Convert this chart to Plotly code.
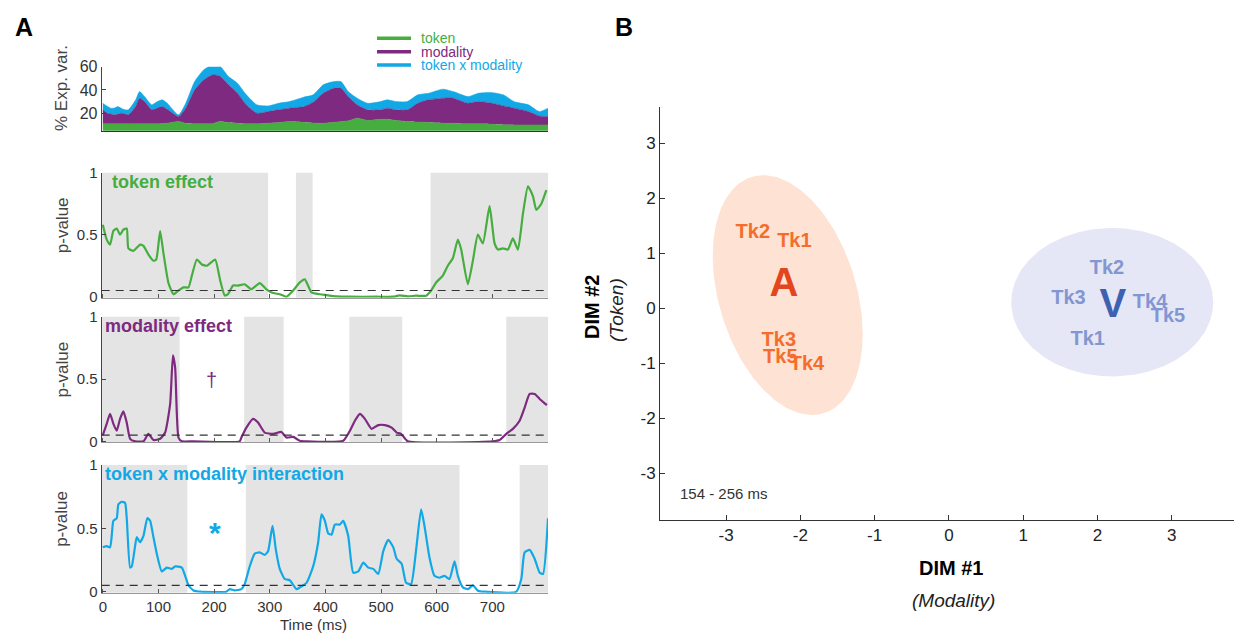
import numpy as np
import plotly.graph_objects as go

# ---------------- Panel A (top): % explained variance (stacked) ----------------
ev_time = [0, 8, 14, 21, 27, 34, 40, 46, 59, 66, 75, 88, 98, 107, 117, 136, 149, 165, 181, 197,
           210, 226, 242, 258, 277, 297, 316, 335, 361, 378, 396, 415, 428, 441, 457, 476, 499,
           511, 527, 547, 566, 585, 611, 630, 656, 675, 700, 720, 739, 765, 784, 800]
ev_token = [10.9, 10.9, 10.9, 10.9, 10.9, 10.9, 10.9, 10.9, 10.9, 10.9, 10.9, 10.9, 10.9, 11.2, 11.5,
            12.9, 11.4, 11.0, 11.0, 11.0, 12.9, 12.0, 11.4, 11.0, 11.0, 11.4, 12.0, 12.9, 12.2, 11.6,
            11.4, 12.2, 12.9, 13.5, 15.8, 13.9, 14.8, 14.8, 13.8, 12.9, 12.5, 12.2, 11.4, 11.4, 10.9,
            10.9, 10.5, 10.2, 10.0, 10.0, 10.0, 10.0]
ev_modality = [12.0, 9.1, 8.4, 7.7, 8.4, 9.1, 8.4, 7.7, 14.8, 22.0, 19.1, 12.0, 13.6, 14.5, 11.4,
               4.3, 13.0, 29.0, 37.6, 41.9, 39.1, 32.4, 25.8, 16.2, 9.0, 10.1, 10.9, 11.5, 13.5,
               17.9, 25.8, 29.3, 28.6, 20.8, 11.4, 9.0, 8.1, 9.6, 9.1, 10.0, 16.1, 19.3, 21.5,
               21.5, 17.7, 19.1, 18.1, 16.1, 14.4, 11.5, 7.7, 7.2]
ev_interaction = [5.7, 6.0, 5.1, 5.9, 6.4, 4.0, 3.6, 4.4, 5.8, 5.7, 4.3, 4.3, 5.5, 5.8, 5.1, 1.4,
                  4.2, 7.2, 8.6, 8.6, 8.7, 7.1, 8.6, 8.6, 7.2, 4.8, 5.7, 5.6, 8.1, 6.3, 7.2, 5.7,
                  5.7, 4.3, 5.7, 5.7, 7.1, 7.1, 7.1, 7.1, 7.2, 5.7, 7.8, 5.7, 5.7, 7.2, 9.1, 9.5,
                  5.6, 5.7, 3.8, 7.2]
ev_ticks = [20, 40, 60]

# ---------------- Panel A: p-value time courses ----------------
token_t = [0, 7, 13, 19, 25, 31, 37, 43, 46, 55, 67, 73, 82, 91, 96, 103, 109, 118, 127, 136,
           145, 154, 160, 169, 178, 187, 193, 202, 211, 219, 225, 234, 243, 255, 267, 282, 294,
           306, 318, 330, 342, 354, 363, 375, 390, 402, 420, 444, 492, 522, 533, 548, 563, 581,
           590, 599, 611, 620, 629, 638, 644, 656, 665, 674, 683, 695, 704, 710, 719, 728, 737,
           746, 755, 764, 773, 779, 788, 797]
token_p = [0.58, 0.46, 0.42, 0.53, 0.55, 0.50, 0.54, 0.55, 0.39, 0.37, 0.42, 0.41, 0.34, 0.29,
           0.30, 0.53, 0.35, 0.11, 0.02, 0.05, 0.075, 0.075, 0.17, 0.30, 0.26, 0.25, 0.27, 0.30,
           0.13, 0.01, 0.02, 0.09, 0.09, 0.10, 0.06, 0.11, 0.06, 0.03, 0.02, 0.0, 0.05, 0.115,
           0.14, 0.035, 0.02, 0.013, 0.003, 0.0, 0.0, 0.0, 0.01, 0.003, 0.008, 0.008, 0.05, 0.115,
           0.17, 0.25, 0.31, 0.46, 0.38, 0.10, 0.29, 0.50, 0.43, 0.73, 0.43, 0.38, 0.39, 0.38,
           0.47, 0.38, 0.67, 0.89, 0.81, 0.70, 0.75, 0.86]

mod_t = [0, 7, 13, 19, 25, 31, 37, 43, 49, 58, 73, 82, 91, 103, 112, 121, 126, 130, 136, 142,
         163, 246, 249, 258, 270, 279, 291, 306, 321, 330, 342, 354, 366, 432, 444, 453, 462,
         471, 483, 495, 507, 519, 528, 536, 548, 701, 713, 725, 737, 749, 758, 767, 776, 785, 798]
mod_p = [0.05, 0.14, 0.22, 0.14, 0.085, 0.18, 0.24, 0.15, 0.02, 0.0, 0.0, 0.06, 0.01, 0.02, 0.07,
         0.30, 0.69, 0.59, 0.03, 0.0, 0.0, 0.0, 0.03, 0.11, 0.18, 0.15, 0.07, 0.06, 0.075, 0.03,
         0.035, 0.005, 0.0, 0.005, 0.085, 0.165, 0.22, 0.18, 0.10, 0.13, 0.13, 0.11, 0.07, 0.06,
         0.0, 0.0, 0.01, 0.06, 0.10, 0.165, 0.27, 0.38, 0.38, 0.34, 0.29]

int_t = [0, 7, 13, 16, 19, 25, 28, 34, 40, 43, 49, 52, 58, 61, 67, 73, 80, 85, 91, 97, 106, 115,
         124, 130, 142, 148, 154, 163, 175, 222, 228, 237, 249, 255, 264, 273, 282, 291, 297, 305,
         311, 318, 327, 336, 348, 354, 366, 378, 387, 393, 399, 405, 411, 417, 426, 432, 441, 450,
         459, 468, 477, 486, 495, 504, 513, 522, 528, 537, 545, 554, 563, 572, 578, 587, 596, 605,
         614, 623, 632, 638, 647, 656, 665, 674, 686, 743, 752, 758, 767, 776, 785, 791, 800]
int_p = [0.35, 0.36, 0.35, 0.44, 0.56, 0.58, 0.69, 0.71, 0.70, 0.58, 0.19, 0.20, 0.36, 0.43, 0.39,
         0.44, 0.58, 0.56, 0.43, 0.30, 0.16, 0.19, 0.18, 0.20, 0.19, 0.125, 0.05, 0.01, 0.0, 0.0,
         0.02, 0.01, 0.02, 0.06, 0.20, 0.30, 0.31, 0.29, 0.32, 0.52, 0.33, 0.18, 0.10, 0.09, 0.02,
         0.034, 0.07, 0.20, 0.39, 0.61, 0.56, 0.46, 0.45, 0.53, 0.53, 0.56, 0.44, 0.15, 0.16, 0.23,
         0.19, 0.18, 0.14, 0.32, 0.41, 0.35, 0.26, 0.22, 0.07, 0.06, 0.33, 0.65, 0.52, 0.27, 0.125,
         0.11, 0.125, 0.10, 0.24, 0.125, 0.034, 0.02, 0.05, 0.008, 0.0, 0.0, 0.10, 0.31, 0.33,
         0.26, 0.15, 0.14, 0.58]

# non-significant (gray) windows, ms
token_gray = [[-2, 297], [347, 377], [589, 800]]
mod_gray = [[-2, 138], [254, 325], [443, 538], [725, 800]]
int_gray = [[-2, 152], [257, 641], [749, 800]]
p_threshold = 0.05
time_ticks = [0, 100, 200, 300, 400, 500, 600, 700]

# ---------------- Panel B: MDS space ----------------
a_labels = ["Tk2", "Tk1", "Tk3", "Tk5", "Tk4"]
a_x = [-2.64, -2.08, -2.29, -2.27, -1.91]
a_y = [1.37, 1.21, -0.59, -0.90, -1.04]
a_centroid = [-2.22, 0.40]
v_labels = ["Tk2", "Tk3", "Tk4", "Tk5", "Tk1"]
v_x = [2.13, 1.61, 2.71, 2.95, 1.87]
v_y = [0.71, 0.16, 0.10, -0.16, -0.58]
v_centroid = [2.21, 0.02]
# ellipse: centre x, centre y, sd x, sd y, correlation
a_ellipse = [-2.17, 0.24, 1.01, 2.18, -0.325]
v_ellipse = [2.20, 0.11, 1.36, 1.35, 0.0]
dim_ticks = [-3, -2, -1, 0, 1, 2, 3]
dim_ticktext = ["-3", "-2", "-1", "0", "1", "2", "3"]

# ---------------- styling ----------------
W, H = 1234, 634
FONT = "Liberation Sans, Arial, sans-serif"
GREEN, PURPLE, BLUE = "#46ad3f", "#7d2a80", "#12a8e6"
GRAY_BG = "#e4e4e4"

XDOM = [101.7 / W, 548 / W]
XRANGE = [-2, 800]


def ydom(top_px, bot_px):
    return [1 - bot_px / H, 1 - top_px / H]


def px(x):
    return x / W


def py(y):
    return 1 - y / H


def note(text, x, y, size, color, angle=0, xanchor="center", ref=("paper", "paper")):
    return dict(text=text, x=x, y=y, xref=ref[0], yref=ref[1], textangle=angle,
                xanchor=xanchor, yanchor="middle", showarrow=False,
                font=dict(family=FONT, size=size, color=color))


fig = go.Figure()

# stacked areas (top)
for name, vals, col in [("token", ev_token, GREEN), ("modality", ev_modality, PURPLE),
                        ("token x modality", ev_interaction, BLUE)]:
    fig.add_trace(go.Scatter(x=ev_time, y=vals, name=name, stackgroup="ev", mode="lines",
                             line=dict(width=0.5, color=col, shape="spline", smoothing=0.6),
                             fillcolor=col, xaxis="x", yaxis="y", showlegend=False))

panels = [(token_t, token_p, GREEN, token_gray, "2", "token effect", 172.7, 297.7),
          (mod_t, mod_p, PURPLE, mod_gray, "3", "modality effect", 316.7, 442.3),
          (int_t, int_p, BLUE, int_gray, "4", "token x modality interaction", 465.0, 592.7)]

shapes = []
annotations = []

for tt, pp, col, gray, ax, label, top, bot in panels:
    fig.add_trace(go.Scatter(x=tt, y=pp, mode="lines", xaxis="x" + ax, yaxis="y" + ax,
                             line=dict(color=col, width=2.2, shape="spline", smoothing=0.5),
                             showlegend=False))
    for g0, g1 in gray:
        shapes.append(dict(type="rect", xref="x" + ax, yref="y" + ax + " domain", x0=g0, x1=g1,
                           y0=0, y1=1, fillcolor=GRAY_BG, line=dict(width=0), layer="below"))
    shapes.append(dict(type="line", xref="x" + ax + " domain", yref="y" + ax, x0=0, x1=1,
                       y0=p_threshold, y1=p_threshold,
                       line=dict(color="#333333", width=1.2, dash="8px,6px")))
    annotations.append(note("<b>" + label + "</b>", px(103 if ax != "2" else 110), py(top + 9),
                            18, col, xanchor="left"))
    annotations.append(note("p-value", px(62), py((top + bot) / 2 - 10), 17, "#444444",
                            angle=-90))

# panel B ellipses
for (cx, cy, sx, sy, rho), col in [(a_ellipse, "#fee2d3"), (v_ellipse, "#e5e7f6")]:
    t = np.linspace(0, 2 * np.pi, 241)
    ex = cx + sx * np.cos(t)
    ey = cy + sy * (rho * np.cos(t) + np.sqrt(1 - rho ** 2) * np.sin(t))
    fig.add_trace(go.Scatter(x=ex, y=ey, mode="lines", fill="toself", fillcolor=col,
                             line=dict(width=0), xaxis="x5", yaxis="y5", showlegend=False,
                             hoverinfo="skip"))

fig.add_trace(go.Scatter(x=a_x, y=a_y, text=["<b>%s</b>" % s for s in a_labels], mode="text",
                         xaxis="x5", yaxis="y5",
                         textfont=dict(family=FONT, size=20, color="#f46d2c"), showlegend=False))
fig.add_trace(go.Scatter(x=v_x, y=v_y, text=["<b>%s</b>" % s for s in v_labels], mode="text",
                         xaxis="x5", yaxis="y5",
                         textfont=dict(family=FONT, size=20, color="#8297d1"), showlegend=False))
fig.add_trace(go.Scatter(x=[a_centroid[0]], y=[a_centroid[1]], text=["<b>A</b>"], mode="text",
                         xaxis="x5", yaxis="y5",
                         textfont=dict(family=FONT, size=40, color="#e2461e"), showlegend=False))
fig.add_trace(go.Scatter(x=[v_centroid[0]], y=[v_centroid[1]], text=["<b>V</b>"], mode="text",
                         xaxis="x5", yaxis="y5",
                         textfont=dict(family=FONT, size=40, color="#3d60b2"), showlegend=False))

# legend (top)
for i, (name, col) in enumerate([("token", GREEN), ("modality", PURPLE),
                                 ("token x modality", BLUE)]):
    yy = [38.3, 51.7, 65.0][i]
    shapes.append(dict(type="line", xref="paper", yref="paper", x0=px(377), x1=px(411),
                       y0=py(yy), y1=py(yy), line=dict(color=col, width=3.5)))
    annotations.append(note(name, px(419), py(yy), 14, col, xanchor="left"))

annotations += [
    note("<b>A</b>", px(24), py(27), 25, "black"),
    note("<b>B</b>", px(624), py(27), 25, "black"),
    note("% Exp. var.", px(61), py(88), 17, "#444444", angle=-90),
    note("Time (ms)", px(313), py(624), 15, "#333333"),
    note("†", 196, 0.49, 20, PURPLE, ref=("x3", "y3")),
    note("<b>*</b>", 202, 0.47, 30, BLUE, ref=("x4", "y4")),
    note("<b>DIM #2</b>", px(592), py(307), 20, "black", angle=-90),
    note("<i>(Token)</i>", px(616), py(310), 19, "#222222", angle=-90),
    note("<b>DIM #1</b>", px(951), py(568), 20, "black"),
    note("<i>(Modality)</i>", px(953), py(600), 19, "#222222"),
    note("154 - 256 ms", px(678), py(493), 15, "#333333", xanchor="left"),
]

tickfont = dict(family=FONT, size=15, color="#333333")
xbase = dict(domain=XDOM, range=XRANGE, showgrid=False, zeroline=False, tickvals=time_ticks,
             ticks="inside", ticklen=4, tickcolor="#555555", showline=True, linecolor="#999999",
             linewidth=1, tickfont=tickfont, automargin=False)
ybase = dict(range=[-0.008, 1.0], tickvals=[0, 0.5, 1], ticktext=["0", "0.5", "1"],
             showgrid=False, zeroline=False, ticks="inside", ticklen=4, tickcolor="#444444",
             showline=True, linecolor="#444444", linewidth=1, tickfont=tickfont,
             automargin=False)

layout = dict(
    template="none",
    font=dict(family=FONT, size=14, color="#333333"),
    width=W, height=H, margin=dict(l=0, r=0, t=0, b=0, pad=0, autoexpand=False),
    paper_bgcolor="white", plot_bgcolor="rgba(0,0,0,0)", showlegend=False,
    shapes=shapes, annotations=annotations,
    xaxis=dict(xbase, anchor="y", showticklabels=False, ticks="", linecolor="#333333"),
    yaxis=dict(domain=ydom(66.7, 130.7), range=[5, 60], tickvals=ev_ticks, showgrid=False,
               zeroline=False, ticks="inside", ticklen=4, tickcolor="#444444", showline=True,
               linecolor="#444444", tickfont=dict(family=FONT, size=16, color="#333333"),
               anchor="x", automargin=False),
    xaxis2=dict(xbase, anchor="y2", showticklabels=False),
    yaxis2=dict(ybase, domain=ydom(172.7, 297.7), anchor="x2"),
    xaxis3=dict(xbase, anchor="y3", showticklabels=False),
    yaxis3=dict(ybase, domain=ydom(316.7, 442.3), anchor="x3"),
    xaxis4=dict(xbase, anchor="y4", showticklabels=True),
    yaxis4=dict(ybase, domain=ydom(465.0, 592.7), anchor="x4"),
    xaxis5=dict(domain=[660 / W, 1.0], range=[-3.89, 3.84], tickvals=dim_ticks,
                ticktext=dim_ticktext, anchor="y5",
                showgrid=False, zeroline=False, ticks="inside", ticklen=5, tickcolor="#333333",
                showline=True, linecolor="#333333", linewidth=1, automargin=False,
                tickfont=dict(family=FONT, size=17, color="#222222")),
    yaxis5=dict(domain=ydom(106.7, 520), range=[-3.85, 3.665], tickvals=dim_ticks,
                ticktext=dim_ticktext, anchor="x5",
                showgrid=False, zeroline=False, ticks="inside", ticklen=5, tickcolor="#333333",
                showline=True, linecolor="#333333", linewidth=1, automargin=False,
                tickfont=dict(family=FONT, size=17, color="#222222")),
)
fig.update_layout(**layout)

fig.write_html("out.html", include_plotlyjs=True, config={"displayModeBar": False},
               post_script="document.body.style.margin='0';document.body.style.overflow='hidden';")
